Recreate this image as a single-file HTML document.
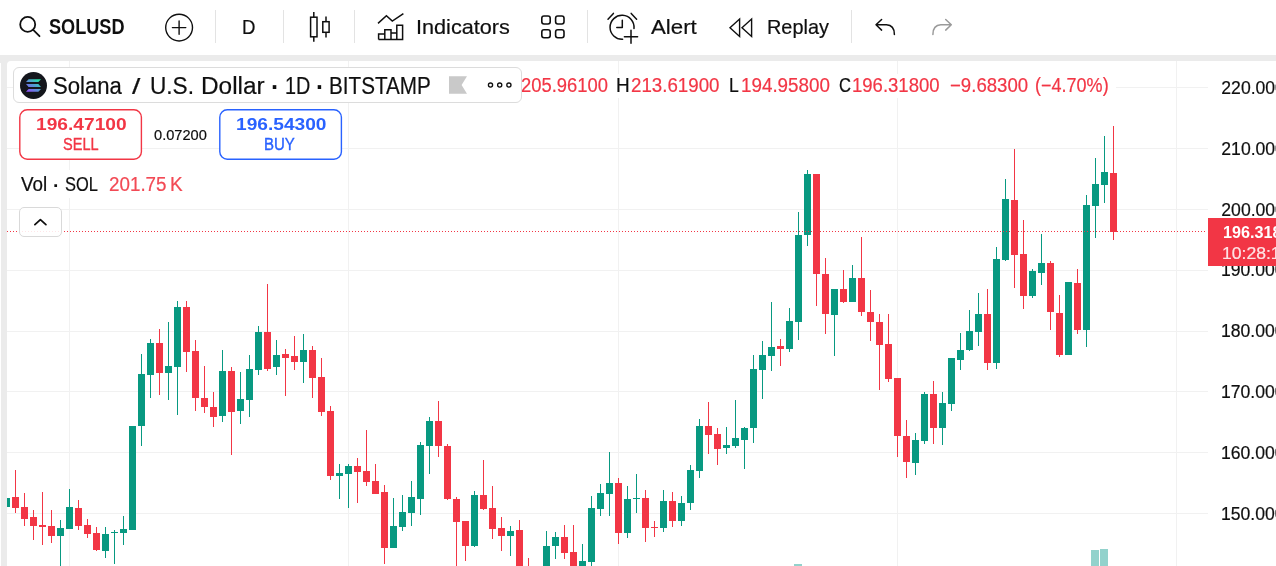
<!DOCTYPE html>
<html lang="en"><head><meta charset="utf-8"><title>SOLUSD chart</title>
<style>
html,body{margin:0;padding:0}
body{width:1276px;height:566px;overflow:hidden;background:#ebebeb;position:relative;font-family:"Liberation Sans",sans-serif;color:#0f0f0f}
.abs{position:absolute}
#tb{position:absolute;left:0;top:0;width:1276px;height:55px;background:#fff}
#pane{position:absolute;left:7px;top:61px;width:1269px;height:505px;background:#fff;border-top-left-radius:4px}
.t{position:absolute;white-space:pre;line-height:1;transform-origin:0 0;display:block}
.hg{position:absolute;left:7px;width:1201px;height:1px;background:#f1f1f1}
.vg{position:absolute;top:61px;width:1px;height:505px;background:#f1f1f1}
.sep{position:absolute;top:10px;width:1px;height:33px;background:#e3e3e3}
svg{position:absolute;left:0;top:0;overflow:visible}
#titlebox{position:absolute;left:13px;top:67px;width:507px;height:34px;border:1px solid #dcdcdc;border-radius:6px;background:#fff;z-index:5}
#legendbg{position:absolute;left:521px;top:74px;width:595px;height:24px;background:#fff;z-index:2}
#volbg{position:absolute;left:18px;top:170px;width:168px;height:28px;background:#fff;z-index:2}
#spreadbg{position:absolute;left:142px;top:122px;width:77px;height:24px;background:#fff;z-index:2}
#collapse{position:absolute;left:19px;top:207px;width:41px;height:28px;border:1px solid #d9d9d9;border-radius:5px;background:rgba(255,255,255,0.88);z-index:5}
#pline{position:absolute;left:7px;top:231px;width:1198px;height:1px;z-index:1;background-image:repeating-linear-gradient(to right,#f23645 0,#f23645 1px,transparent 1px,transparent 3px)}
#plabel{position:absolute;left:1208px;top:218px;width:68px;height:47.5px;background:#f23645;z-index:7}
</style></head><body>
<div id="tb"></div>
<div id="pane"></div><div class="abs" style="left:0;top:63px;width:1px;height:503px;background:#fff"></div>
<div class="hg" style="top:87px"></div>
<div class="hg" style="top:148px"></div>
<div class="hg" style="top:209px"></div>
<div class="hg" style="top:270px"></div>
<div class="hg" style="top:331px"></div>
<div class="hg" style="top:391px"></div>
<div class="hg" style="top:452px"></div>
<div class="hg" style="top:513px"></div>
<div class="vg" style="left:69px"></div>
<div class="vg" style="left:348px"></div>
<div class="vg" style="left:618px"></div>
<div class="vg" style="left:897px"></div>
<div class="vg" style="left:1176px"></div>
<svg width="1276" height="566" viewBox="0 0 1276 566" style="z-index:1" shape-rendering="crispEdges">
<defs><clipPath id="cp"><rect x="7" y="61" width="1201" height="505"/></clipPath></defs>
<g clip-path="url(#cp)"><g fill="#92d2cc"><rect x="794" y="564" width="8" height="6"/><rect x="1091" y="550" width="8" height="20"/><rect x="1100" y="549" width="8" height="21"/></g>
<g fill="#089981"><rect x="6" y="498" width="1" height="9"/><rect x="3" y="498" width="7" height="9"/><rect x="60" y="520" width="1" height="50"/><rect x="57" y="528" width="7" height="8"/><rect x="69" y="489" width="1" height="40"/><rect x="66" y="507" width="7" height="22"/><rect x="105" y="527" width="1" height="31"/><rect x="102" y="534" width="7" height="17"/><rect x="114" y="530" width="1" height="34"/><rect x="111" y="532" width="7" height="1"/><rect x="123" y="516" width="1" height="29"/><rect x="120" y="529" width="7" height="4"/><rect x="132" y="426" width="1" height="104"/><rect x="129" y="426" width="7" height="104"/><rect x="141" y="354" width="1" height="92"/><rect x="138" y="374" width="7" height="52"/><rect x="150" y="339" width="1" height="59"/><rect x="147" y="343" width="7" height="32"/><rect x="168" y="322" width="1" height="78"/><rect x="165" y="366" width="7" height="7"/><rect x="177" y="301" width="1" height="114"/><rect x="174" y="307" width="7" height="60"/><rect x="222" y="350" width="1" height="72"/><rect x="219" y="371" width="7" height="45"/><rect x="240" y="372" width="1" height="52"/><rect x="237" y="399" width="7" height="12"/><rect x="249" y="355" width="1" height="62"/><rect x="246" y="369" width="7" height="31"/><rect x="258" y="326" width="1" height="49"/><rect x="255" y="332" width="7" height="38"/><rect x="276" y="340" width="1" height="35"/><rect x="273" y="355" width="7" height="12"/><rect x="303" y="334" width="1" height="49"/><rect x="300" y="350" width="7" height="12"/><rect x="339" y="464" width="1" height="35"/><rect x="336" y="473" width="7" height="3"/><rect x="348" y="464" width="1" height="44"/><rect x="345" y="466" width="7" height="8"/><rect x="393" y="498" width="1" height="50"/><rect x="390" y="526" width="7" height="22"/><rect x="402" y="495" width="1" height="36"/><rect x="399" y="512" width="7" height="15"/><rect x="411" y="481" width="1" height="45"/><rect x="408" y="497" width="7" height="16"/><rect x="420" y="442" width="1" height="73"/><rect x="417" y="445" width="7" height="54"/><rect x="429" y="417" width="1" height="57"/><rect x="426" y="421" width="7" height="25"/><rect x="474" y="491" width="1" height="56"/><rect x="471" y="495" width="7" height="51"/><rect x="510" y="526" width="1" height="30"/><rect x="507" y="531" width="7" height="5"/><rect x="546" y="531" width="1" height="39"/><rect x="543" y="546" width="7" height="24"/><rect x="555" y="532" width="1" height="27"/><rect x="552" y="537" width="7" height="9"/><rect x="582" y="544" width="1" height="26"/><rect x="579" y="561" width="7" height="9"/><rect x="591" y="496" width="1" height="72"/><rect x="588" y="508" width="7" height="54"/><rect x="600" y="484" width="1" height="32"/><rect x="597" y="493" width="7" height="16"/><rect x="609" y="452" width="1" height="64"/><rect x="606" y="483" width="7" height="11"/><rect x="627" y="486" width="1" height="52"/><rect x="624" y="499" width="7" height="34"/><rect x="636" y="474" width="1" height="39"/><rect x="633" y="498" width="7" height="1"/><rect x="663" y="490" width="1" height="42"/><rect x="660" y="501" width="7" height="27"/><rect x="681" y="496" width="1" height="30"/><rect x="678" y="503" width="7" height="18"/><rect x="690" y="465" width="1" height="45"/><rect x="687" y="470" width="7" height="33"/><rect x="699" y="419" width="1" height="59"/><rect x="696" y="426" width="7" height="45"/><rect x="726" y="427" width="1" height="27"/><rect x="723" y="445" width="7" height="3"/><rect x="735" y="400" width="1" height="48"/><rect x="732" y="438" width="7" height="8"/><rect x="744" y="427" width="1" height="42"/><rect x="741" y="428" width="7" height="12"/><rect x="753" y="355" width="1" height="88"/><rect x="750" y="369" width="7" height="59"/><rect x="762" y="341" width="1" height="58"/><rect x="759" y="355" width="7" height="15"/><rect x="771" y="302" width="1" height="69"/><rect x="768" y="347" width="7" height="9"/><rect x="789" y="308" width="1" height="44"/><rect x="786" y="321" width="7" height="28"/><rect x="798" y="212" width="1" height="128"/><rect x="795" y="235" width="7" height="87"/><rect x="807" y="170" width="1" height="76"/><rect x="804" y="174" width="7" height="61"/><rect x="834" y="289" width="1" height="67"/><rect x="831" y="289" width="7" height="26"/><rect x="852" y="265" width="1" height="37"/><rect x="849" y="278" width="7" height="24"/><rect x="915" y="433" width="1" height="42"/><rect x="912" y="440" width="7" height="23"/><rect x="924" y="392" width="1" height="52"/><rect x="921" y="394" width="7" height="47"/><rect x="942" y="392" width="1" height="53"/><rect x="939" y="403" width="7" height="25"/><rect x="951" y="358" width="1" height="53"/><rect x="948" y="358" width="7" height="46"/><rect x="960" y="333" width="1" height="37"/><rect x="957" y="350" width="7" height="10"/><rect x="969" y="310" width="1" height="41"/><rect x="966" y="331" width="7" height="19"/><rect x="978" y="293" width="1" height="53"/><rect x="975" y="314" width="7" height="18"/><rect x="996" y="247" width="1" height="122"/><rect x="993" y="259" width="7" height="104"/><rect x="1005" y="179" width="1" height="82"/><rect x="1002" y="199" width="7" height="61"/><rect x="1032" y="269" width="1" height="29"/><rect x="1029" y="271" width="7" height="25"/><rect x="1041" y="234" width="1" height="51"/><rect x="1038" y="263" width="7" height="10"/><rect x="1068" y="282" width="1" height="73"/><rect x="1065" y="282" width="7" height="73"/><rect x="1086" y="195" width="1" height="152"/><rect x="1083" y="205" width="7" height="125"/><rect x="1095" y="158" width="1" height="80"/><rect x="1092" y="184" width="7" height="22"/><rect x="1104" y="136" width="1" height="67"/><rect x="1101" y="172" width="7" height="13"/></g>
<g fill="#f23645"><rect x="15" y="470" width="1" height="43"/><rect x="12" y="497" width="7" height="11"/><rect x="24" y="493" width="1" height="33"/><rect x="21" y="507" width="7" height="12"/><rect x="33" y="510" width="1" height="30"/><rect x="30" y="517" width="7" height="9"/><rect x="42" y="492" width="1" height="53"/><rect x="39" y="525" width="7" height="2"/><rect x="51" y="510" width="1" height="33"/><rect x="48" y="526" width="7" height="10"/><rect x="78" y="500" width="1" height="30"/><rect x="75" y="508" width="7" height="18"/><rect x="87" y="519" width="1" height="19"/><rect x="84" y="525" width="7" height="9"/><rect x="96" y="527" width="1" height="24"/><rect x="93" y="533" width="7" height="17"/><rect x="159" y="329" width="1" height="66"/><rect x="156" y="343" width="7" height="30"/><rect x="186" y="301" width="1" height="71"/><rect x="183" y="307" width="7" height="45"/><rect x="195" y="340" width="1" height="71"/><rect x="192" y="351" width="7" height="47"/><rect x="204" y="366" width="1" height="47"/><rect x="201" y="398" width="7" height="9"/><rect x="213" y="392" width="1" height="35"/><rect x="210" y="407" width="7" height="10"/><rect x="231" y="367" width="1" height="88"/><rect x="228" y="371" width="7" height="41"/><rect x="267" y="284" width="1" height="87"/><rect x="264" y="332" width="7" height="37"/><rect x="285" y="349" width="1" height="47"/><rect x="282" y="354" width="7" height="4"/><rect x="294" y="336" width="1" height="34"/><rect x="291" y="356" width="7" height="6"/><rect x="312" y="346" width="1" height="52"/><rect x="309" y="350" width="7" height="28"/><rect x="321" y="358" width="1" height="58"/><rect x="318" y="377" width="7" height="35"/><rect x="330" y="406" width="1" height="74"/><rect x="327" y="411" width="7" height="65"/><rect x="357" y="458" width="1" height="45"/><rect x="354" y="466" width="7" height="6"/><rect x="366" y="430" width="1" height="56"/><rect x="363" y="471" width="7" height="11"/><rect x="375" y="464" width="1" height="30"/><rect x="372" y="481" width="7" height="13"/><rect x="384" y="485" width="1" height="79"/><rect x="381" y="492" width="7" height="56"/><rect x="438" y="401" width="1" height="56"/><rect x="435" y="421" width="7" height="25"/><rect x="447" y="444" width="1" height="56"/><rect x="444" y="446" width="7" height="53"/><rect x="456" y="497" width="1" height="73"/><rect x="453" y="499" width="7" height="23"/><rect x="465" y="521" width="1" height="40"/><rect x="462" y="521" width="7" height="25"/><rect x="483" y="460" width="1" height="50"/><rect x="480" y="495" width="7" height="14"/><rect x="492" y="486" width="1" height="53"/><rect x="489" y="508" width="7" height="21"/><rect x="501" y="517" width="1" height="34"/><rect x="498" y="528" width="7" height="8"/><rect x="519" y="520" width="1" height="50"/><rect x="516" y="530" width="7" height="40"/><rect x="528" y="558" width="1" height="12"/><rect x="525" y="566" width="7" height="4"/><rect x="564" y="525" width="1" height="34"/><rect x="561" y="537" width="7" height="16"/><rect x="573" y="525" width="1" height="45"/><rect x="570" y="552" width="7" height="18"/><rect x="618" y="478" width="1" height="66"/><rect x="615" y="483" width="7" height="50"/><rect x="645" y="490" width="1" height="52"/><rect x="642" y="498" width="7" height="30"/><rect x="654" y="521" width="1" height="16"/><rect x="651" y="527" width="7" height="1"/><rect x="672" y="492" width="1" height="35"/><rect x="669" y="501" width="7" height="20"/><rect x="708" y="402" width="1" height="52"/><rect x="705" y="426" width="7" height="9"/><rect x="717" y="428" width="1" height="37"/><rect x="714" y="434" width="7" height="15"/><rect x="780" y="339" width="1" height="27"/><rect x="777" y="346" width="7" height="3"/><rect x="816" y="174" width="1" height="132"/><rect x="813" y="174" width="7" height="100"/><rect x="825" y="258" width="1" height="76"/><rect x="822" y="274" width="7" height="40"/><rect x="843" y="270" width="1" height="33"/><rect x="840" y="289" width="7" height="13"/><rect x="861" y="237" width="1" height="79"/><rect x="858" y="278" width="7" height="34"/><rect x="870" y="290" width="1" height="51"/><rect x="867" y="312" width="7" height="10"/><rect x="879" y="314" width="1" height="76"/><rect x="876" y="322" width="7" height="23"/><rect x="888" y="314" width="1" height="68"/><rect x="885" y="344" width="7" height="35"/><rect x="897" y="378" width="1" height="79"/><rect x="894" y="378" width="7" height="58"/><rect x="906" y="420" width="1" height="58"/><rect x="903" y="436" width="7" height="26"/><rect x="933" y="381" width="1" height="63"/><rect x="930" y="394" width="7" height="34"/><rect x="987" y="289" width="1" height="81"/><rect x="984" y="314" width="7" height="49"/><rect x="1014" y="149" width="1" height="139"/><rect x="1011" y="200" width="7" height="55"/><rect x="1023" y="220" width="1" height="89"/><rect x="1020" y="254" width="7" height="42"/><rect x="1050" y="261" width="1" height="69"/><rect x="1047" y="263" width="7" height="49"/><rect x="1059" y="295" width="1" height="62"/><rect x="1056" y="313" width="7" height="42"/><rect x="1077" y="269" width="1" height="65"/><rect x="1074" y="283" width="7" height="47"/><rect x="1113" y="126" width="1" height="114"/><rect x="1110" y="173" width="7" height="59"/></g></g>
</svg>
<div id="pline"></div>
<div id="legendbg"></div><div id="volbg"></div><div id="spreadbg"></div>
<div id="titlebox"></div>
<svg width="1276" height="566" viewBox="0 0 1276 566" style="z-index:5" fill="#fff" stroke-width="1.4"><rect x="19.8" y="109.8" width="121.6" height="49.5" rx="7.5" stroke="#f23645"/><rect x="219.8" y="109.8" width="121.6" height="49.5" rx="7.5" stroke="#2962ff"/></svg><div class="abs" style="left:69px;top:103px;width:1px;height:7px;background:#fff;z-index:2"></div>
<div id="collapse"></div>
<div id="plabel"></div>
<div class="sep" style="left:215px"></div><div class="sep" style="left:283px"></div><div class="sep" style="left:354px"></div><div class="sep" style="left:587px"></div><div class="sep" style="left:851px"></div>
<svg width="1276" height="566" viewBox="0 0 1276 566" style="z-index:9" fill="none" stroke="#0f0f0f" stroke-width="1.6" stroke-linecap="round" stroke-linejoin="round">
<!-- search -->
<circle cx="27.7" cy="24.4" r="7.5" stroke-width="1.8"/><path d="M33.2 29.9L39.5 36.2" stroke-width="1.8"/>
<!-- plus circle -->
<circle cx="179.1" cy="27.6" r="13.4" stroke-width="1.4"/><path d="M172.4 27.6H185.8M179.1 20.9V34.3" stroke-width="1.4"/>
<!-- candles icon -->
<g stroke-width="1.5" stroke-linecap="butt" stroke-linejoin="miter"><rect x="310.6" y="17.2" width="6.4" height="19.6"/><path d="M313.8 12V17.2M313.8 36.8V41.7"/><rect x="322.8" y="21.7" width="6.3" height="10.6"/><path d="M326 16.4V21.7M326 32.3V37.4"/></g>
<!-- indicators icon -->
<g stroke-width="1.5" stroke-linecap="butt" stroke-linejoin="miter"><path d="M378 23.4L386.4 15.8L392.3 21.1L403.4 13.7"/><path d="M378.6 39.6V33.9H384.8V39.6M384.8 33.9V29.8H391V39.6M391 33H396.8V39.6M396.8 33V25.2H402.6V39.6H378.6"/></g>
<!-- templates -->
<g stroke-width="1.6"><rect x="541.8" y="16" width="8.4" height="8" rx="2.2"/><rect x="555.6" y="16" width="8.4" height="8" rx="2.2"/><rect x="541.8" y="29.8" width="8.4" height="8" rx="2.2"/><rect x="555.6" y="29.8" width="8.4" height="8" rx="2.2"/></g>
<!-- alert -->
<g stroke-width="1.5"><path d="M634 28.5A12 12 0 1 0 622.6 39.3"/><path d="M622.3 20.2V27.5H616.8"/><path d="M608 19.2L613.4 13.4M631.2 13.4L636.6 19.2"/><path d="M624.4 36.8H637.6M631 30.2V43.2"/></g>
<!-- replay -->
<g stroke-width="1.4" stroke-linejoin="miter"><path d="M739.6 19V36.4L730 27.7Z"/><path d="M751.6 19V36.4L742 27.7Z"/></g>
<!-- undo -->
<path d="M881.6 19.5L876 24.8L881.6 30.1M876 24.8H886.5Q894.3 25.2 894.4 34.4" stroke-width="1.5"/>
<!-- redo -->
<path d="M945.7 19.5L951.3 24.8L945.7 30.1M951.3 24.8H940.8Q933 25.2 932.9 34.4" stroke="#9a9a9a" stroke-width="1.5"/>
<!-- collapse chevron -->
<path d="M34.9 224.6L40.4 219.7L45.9 224.6" stroke-width="1.8"/>
<!-- more (ooo) -->
<g stroke-width="1.3"><circle cx="490.5" cy="85.1" r="2.1"/><circle cx="499.7" cy="85.1" r="2.1"/><circle cx="508.9" cy="85.1" r="2.1"/></g>
<!-- flag -->
<path d="M449 76.2H467L461.6 85L467 93.7H449Z" fill="#c9c9c9" stroke="none"/>
<!-- solana logo -->
<defs><linearGradient id="sg" gradientUnits="userSpaceOnUse" x1="27" y1="93" x2="40" y2="78"><stop offset="0" stop-color="#9945ff"/><stop offset="0.5" stop-color="#5497d5"/><stop offset="1" stop-color="#19fb9b"/></linearGradient></defs>
<circle cx="33.5" cy="85.5" r="13.5" fill="#14161c" stroke="none"/>
<g fill="url(#sg)" stroke="none"><path d="M28.6 79.2H41L38.4 82H26Z"/><path d="M26 84.1H38.4L41 86.9H28.6Z"/><path d="M28.6 89H41L38.4 91.8H26Z"/></g>
</svg>

<div class="toolbar-labels">
<span class="t" style="left:49.24px;top:15.80px;font-size:22px;color:#0f0f0f;font-weight:700;transform:scaleX(0.8241);">SOLUSD</span>
<span class="t" style="left:242.41px;top:15.60px;font-size:21px;color:#0f0f0f;-webkit-text-stroke:0.2px;transform:scaleX(0.8889);">D</span>
<span class="t" style="left:415.65px;top:15.60px;font-size:21px;color:#0f0f0f;-webkit-text-stroke:0.2px;transform:scaleX(1.0314);">Indicators</span>
<span class="t" style="left:650.70px;top:15.60px;font-size:21px;color:#0f0f0f;-webkit-text-stroke:0.2px;transform:scaleX(1.0596);">Alert</span>
<span class="t" style="left:766.91px;top:15.60px;font-size:21px;color:#0f0f0f;-webkit-text-stroke:0.2px;transform:scaleX(0.9468);">Replay</span>
</div>
<div class="legend-title">
<span class="t" style="left:52.92px;top:74.50px;font-size:23.5px;color:#0f0f0f;-webkit-text-stroke:0.2px;transform:scaleX(0.9402);z-index:6;">Solana</span>
<span class="t" style="left:132.20px;top:76.50px;font-size:21.5px;color:#0f0f0f;-webkit-text-stroke:0.2px;transform:scaleX(1.3953);z-index:6;">/</span>
<span class="t" style="left:149.82px;top:74.50px;font-size:23.5px;color:#0f0f0f;-webkit-text-stroke:0.2px;transform:scaleX(0.9620);z-index:6;">U.S.</span>
<span class="t" style="left:201.25px;top:74.50px;font-size:23.5px;color:#0f0f0f;-webkit-text-stroke:0.2px;transform:scaleX(1.0373);z-index:6;">Dollar</span>
<span class="t" style="left:271.28px;top:74.97px;font-size:25px;color:#0f0f0f;font-weight:700;transform:scaleX(1.0133);z-index:6;">·</span>
<span class="t" style="left:284.91px;top:74.50px;font-size:23.5px;color:#0f0f0f;-webkit-text-stroke:0.2px;transform:scaleX(0.8429);z-index:6;">1D</span>
<span class="t" style="left:316.42px;top:74.97px;font-size:25px;color:#0f0f0f;font-weight:700;transform:scaleX(0.9867);z-index:6;">·</span>
<span class="t" style="left:328.65px;top:74.50px;font-size:23.5px;color:#0f0f0f;-webkit-text-stroke:0.2px;transform:scaleX(0.8796);z-index:6;">BITSTAMP</span>
</div>
<div class="legend-ohlc">
<span class="t" style="left:520.98px;top:76.20px;font-size:19.5px;color:#f23645;-webkit-text-stroke:0.2px;transform:scaleX(0.9437);z-index:3;">205.96100</span>
<span class="t" style="left:616.38px;top:76.20px;font-size:19.5px;color:#0f0f0f;-webkit-text-stroke:0.2px;transform:scaleX(0.9717);z-index:3;">H</span>
<span class="t" style="left:631.06px;top:76.20px;font-size:19.5px;color:#f23645;-webkit-text-stroke:0.2px;transform:scaleX(0.9602);z-index:3;">213.61900</span>
<span class="t" style="left:729.40px;top:76.20px;font-size:19.5px;color:#0f0f0f;-webkit-text-stroke:0.2px;transform:scaleX(0.9003);z-index:3;">L</span>
<span class="t" style="left:740.98px;top:76.20px;font-size:19.5px;color:#f23645;-webkit-text-stroke:0.2px;transform:scaleX(0.9644);z-index:3;">194.95800</span>
<span class="t" style="left:839.17px;top:76.20px;font-size:19.5px;color:#0f0f0f;-webkit-text-stroke:0.2px;transform:scaleX(0.8494);z-index:3;">C</span>
<span class="t" style="left:851.90px;top:76.20px;font-size:19.5px;color:#f23645;-webkit-text-stroke:0.2px;transform:scaleX(0.9500);z-index:3;">196.31800</span>
<span class="t" style="left:949.56px;top:76.20px;font-size:19.5px;color:#f23645;-webkit-text-stroke:0.2px;transform:scaleX(0.9541);z-index:3;">−9.68300</span>
<span class="t" style="left:1034.72px;top:76.20px;font-size:19.5px;color:#f23645;-webkit-text-stroke:0.2px;transform:scaleX(0.9243);z-index:3;">(−4.70%)</span>
</div>
<div class="legend-trade">
<span class="t" style="left:35.85px;top:115.60px;font-size:17px;color:#f23645;font-weight:700;transform:scaleX(1.1280);z-index:6;">196.47100</span>
<span class="t" style="left:62.62px;top:136.50px;font-size:16px;color:#f23645;-webkit-text-stroke:0.35px;transform:scaleX(0.9086);z-index:6;">SELL</span>
<span class="t" style="left:153.56px;top:127.60px;font-size:14.5px;color:#0f0f0f;-webkit-text-stroke:0.2px;transform:scaleX(1.0087);z-index:6;">0.07200</span>
<span class="t" style="left:235.75px;top:115.60px;font-size:17px;color:#2962ff;font-weight:700;transform:scaleX(1.1254);z-index:6;">196.54300</span>
<span class="t" style="left:263.50px;top:136.60px;font-size:16px;color:#2962ff;-webkit-text-stroke:0.35px;transform:scaleX(0.9379);z-index:6;">BUY</span>
</div>
<div class="legend-volume">
<span class="t" style="left:20.90px;top:174.70px;font-size:19.5px;color:#0f0f0f;-webkit-text-stroke:0.2px;transform:scaleX(0.9654);z-index:6;">Vol</span>
<span class="t" style="left:53.44px;top:175.67px;font-size:19px;color:#0f0f0f;font-weight:700;transform:scaleX(1.0175);z-index:6;">·</span>
<span class="t" style="left:65.04px;top:174.70px;font-size:19.5px;color:#0f0f0f;-webkit-text-stroke:0.2px;transform:scaleX(0.8429);z-index:6;">SOL</span>
<span class="t" style="left:109.06px;top:174.70px;font-size:19.5px;color:#f24a55;-webkit-text-stroke:0.2px;transform:scaleX(0.9644);z-index:6;">201.75</span>
<span class="t" style="left:169.88px;top:174.70px;font-size:19.5px;color:#f24a55;-webkit-text-stroke:0.2px;transform:scaleX(0.9726);z-index:6;">K</span>
</div>
<div class="price-axis">
<span class="t" style="left:1221.32px;top:79.90px;font-size:17.6px;color:#0f0f0f;-webkit-text-stroke:0.2px;z-index:2;">220.000</span>
<span class="t" style="left:1221.32px;top:140.73px;font-size:17.6px;color:#0f0f0f;-webkit-text-stroke:0.2px;z-index:2;">210.000</span>
<span class="t" style="left:1221.32px;top:201.56px;font-size:17.6px;color:#0f0f0f;-webkit-text-stroke:0.2px;z-index:2;">200.000</span>
<span class="t" style="left:1220.97px;top:262.39px;font-size:17.6px;color:#0f0f0f;-webkit-text-stroke:0.2px;z-index:2;">190.000</span>
<span class="t" style="left:1220.97px;top:323.22px;font-size:17.6px;color:#0f0f0f;-webkit-text-stroke:0.2px;z-index:2;">180.000</span>
<span class="t" style="left:1220.97px;top:384.05px;font-size:17.6px;color:#0f0f0f;-webkit-text-stroke:0.2px;z-index:2;">170.000</span>
<span class="t" style="left:1220.97px;top:444.88px;font-size:17.6px;color:#0f0f0f;-webkit-text-stroke:0.2px;z-index:2;">160.000</span>
<span class="t" style="left:1220.97px;top:505.71px;font-size:17.6px;color:#0f0f0f;-webkit-text-stroke:0.2px;z-index:2;">150.000</span>
</div>
<div class="last-price-label">
<span class="t" style="left:1222.53px;top:224.10px;font-size:16.5px;color:#ffffff;font-weight:700;transform:scaleX(0.9800);z-index:8;">196.318</span>
<span class="t" style="left:1222.27px;top:244.70px;font-size:16.5px;color:rgba(255,255,255,0.85);-webkit-text-stroke:0.2px;transform:scaleX(1.0650);z-index:8;">10:28:12</span>
</div>
</body></html>
